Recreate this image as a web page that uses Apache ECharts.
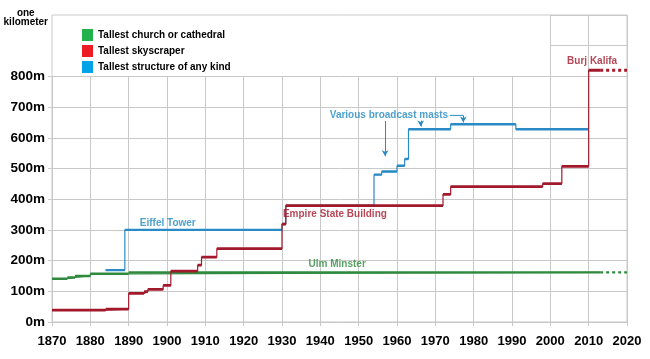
<!DOCTYPE html>
<html><head><meta charset="utf-8">
<script src="https://cdn.jsdelivr.net/npm/echarts@6/dist/echarts.min.js"></script>
<style>html,body{margin:0;padding:0;background:#fff}#c{width:650px;height:359px}</style>
</head><body><div id="c"></div>
<script>
// ---- data ----
const xTickLabels = [1870,1880,1890,1900,1910,1920,1930,1940,1950,1960,1970,1980,1990,2000,2010,2020];
const yTickLabels = ['0m','100m','200m','300m','400m','500m','600m','700m','800m'];
const churchYears   = [1870, 1874, 1876, 1880, 1890, 2013];
const churchHeights = [141, 145, 150, 157, 161.5, 161.5];
const skyYears   = [1870, 1884, 1890, 1894, 1895, 1899, 1901, 1908, 1909, 1913, 1930, 1931, 1972, 1974, 1998, 2003, 2010, 2013];
const skyHeights = [39, 42, 93, 99, 106, 119, 166, 185, 211, 239, 319, 379, 416, 441, 451, 507, 820, 820];
const structYears   = [1884, 1889, 1930, 1931, 1954, 1956, 1960, 1962, 1963, 1974, 1991, 2010];
const structHeights = [169, 300, 319, 379, 480, 490, 509, 531, 628, 644, 628, 628];
const projectionYears = [2013, 2020];
const annotationTexts  = ['Eiffel Tower', 'Empire State Building', 'Ulm Minster', 'Various broadcast masts', 'Burj Kalifa'];
const annotationAnchors = [[1900.2, 322], [1943.8, 351], [1944.4, 188], [1957.9, 673], [2010.9, 848]];
const mastArrows = [
  [[1956.9, 655], [1956.9, 540]],
  [[1966.2, 656], [1966.2, 637]],
  [[1977.3, 673], [1977.3, 650]]
];
const mastLeader = [[1973.8, 673], [1977.3, 673]];

const FONT = 'Liberation Sans, Arial, sans-serif';
const C_GREEN = '#2f8a3e', C_RED = '#a3192c', C_BLUE = '#2a8ac6';
const GRID_C = '#c9c9c9';

function stepSeries(name, years, heights, color, width, z) {
  const pts = years.map((y, i) => [y, heights[i]]);
  const horiz = [];
  for (let i = 0; i < years.length - 1; i++) {
    horiz.push([years[i], heights[i]], [years[i + 1], heights[i]], [years[i + 1], '-']);
  }
  return [
    { name, type: 'line', step: 'end', data: pts, symbol: 'none', silent: true,
      lineStyle: { color, width: 1.2 }, itemStyle: { color }, z },
    { name, type: 'line', data: horiz, symbol: 'none', silent: true, connectNulls: false,
      lineStyle: { color, width, cap: 'butt' }, itemStyle: { color }, z: z + 0.1 }
  ];
}
function projSeries(name, heights, color, width, z) {
  const h = heights[heights.length - 1];
  return { name, type: 'line', data: projectionYears.map(y => [y, h]), symbol: 'none', silent: true,
    lineStyle: { color, width, type: [3, 3], cap: 'butt' }, itemStyle: { color }, z };
}

const annColors = ['#1f88c2', '#a3192c', '#2f8a3e', '#1f88c2', '#a3192c'];

const chart = echarts.init(document.getElementById('c'), null, { renderer: 'canvas' });
const option = {
  animation: false,
  backgroundColor: '#fff',
  grid: [
    { left: 52, right: 23, top: 15, bottom: 37, show: true, borderColor: GRID_C, borderWidth: 1, backgroundColor: 'transparent', z: 1 },
    { left: 52, right: 23, top: 76.4, bottom: 37 },
    { left: 550.333, right: 23, top: 15, bottom: 282.6 }
  ],
  xAxis: [
    { gridIndex: 0, type: 'value', min: 1870, max: 2020, show: false },
    { gridIndex: 1, type: 'value', min: 1870, max: 2020, interval: 10,
      axisLine: { show: true, lineStyle: { color: GRID_C } },
      axisTick: { show: true, length: 4, lineStyle: { color: GRID_C } },
      splitLine: { show: true, lineStyle: { color: GRID_C } },
      axisLabel: { margin: 13, color: '#000', fontFamily: FONT, fontWeight: 'bold', fontSize: 13,
        formatter: v => xTickLabels.includes(v) ? String(v) : '' } },
    { gridIndex: 2, type: 'value', min: 2000, max: 2020, interval: 10,
      axisLine: { show: false }, axisTick: { show: false }, axisLabel: { show: false },
      splitLine: { show: true, lineStyle: { color: GRID_C } } }
  ],
  yAxis: [
    { gridIndex: 0, type: 'value', min: 0, max: 1000, interval: 1000,
      axisLine: { show: false }, axisTick: { show: false }, splitLine: { show: false },
      axisLabel: { margin: 4, padding: [5, 0, 0, 0], formatter: v => v === 1000 ? '{k|one}\n{k|kilometer}' : '',
        rich: { k: { align: 'center', fontFamily: FONT, fontWeight: 'bold', fontSize: 10, lineHeight: 9, color: '#000' } } } },
    { gridIndex: 1, type: 'value', min: 0, max: 800, interval: 100,
      axisLine: { show: true, lineStyle: { color: GRID_C } },
      axisTick: { show: true, length: 4, lineStyle: { color: GRID_C } },
      splitLine: { show: true, lineStyle: { color: GRID_C } },
      axisLabel: { margin: 7, color: '#000', fontFamily: FONT, fontWeight: 'bold', fontSize: 13.5,
        formatter: v => yTickLabels[v / 100] } },
    { gridIndex: 2, type: 'value', min: 800, max: 1000, interval: 100,
      axisLine: { show: false }, axisTick: { show: false }, axisLabel: { show: false },
      splitLine: { show: true, lineStyle: { color: GRID_C } } }
  ],
  legend: {
    orient: 'vertical', left: 77, top: 24, itemWidth: 11, itemHeight: 12, itemGap: 4, icon: 'rect',
    selectedMode: false,
    textStyle: { fontFamily: FONT, fontWeight: 'bold', fontSize: 10, color: '#000' },
    data: [
      { name: 'Tallest church or cathedral', itemStyle: { color: '#22b14c' } },
      { name: 'Tallest skyscraper', itemStyle: { color: '#ed1c24' } },
      { name: 'Tallest structure of any kind', itemStyle: { color: '#00a2e8' } }
    ]
  },
  series: [
    ...stepSeries('Tallest church or cathedral', churchYears, churchHeights, C_GREEN, 2.4, 10),
    projSeries('Tallest church or cathedral', churchHeights, C_GREEN, 2.4, 10),
    ...stepSeries('Tallest structure of any kind', structYears, structHeights, C_BLUE, 2.4, 12),
    ...stepSeries('Tallest skyscraper', skyYears, skyHeights, C_RED, 2.8, 14),
    projSeries('Tallest skyscraper', skyHeights, C_RED, 2.8, 14),
    { type: 'line', data: mastLeader, symbol: 'none', silent: true, lineStyle: { color: C_BLUE, width: 1 }, z: 16,
      markLine: { silent: true, symbol: ['none', 'arrow'], symbolSize: [5, 6], animation: false,
        label: { show: false }, lineStyle: { color: C_BLUE, width: 1, type: 'solid' },
        data: mastArrows.map(a => [{ coord: a[0] }, { coord: a[1] }]) } },
    { type: 'scatter', symbolSize: 1, silent: true, z: 20, itemStyle: { color: 'transparent' },
      data: annotationTexts.map((t, i) => ({ value: annotationAnchors[i],
        label: { show: true, position: 'inside', formatter: t, color: annColors[i],
          fontFamily: FONT, fontWeight: 'bold', fontSize: 10 } })) }
  ]
};
chart.setOption(option);
</script></body></html>
